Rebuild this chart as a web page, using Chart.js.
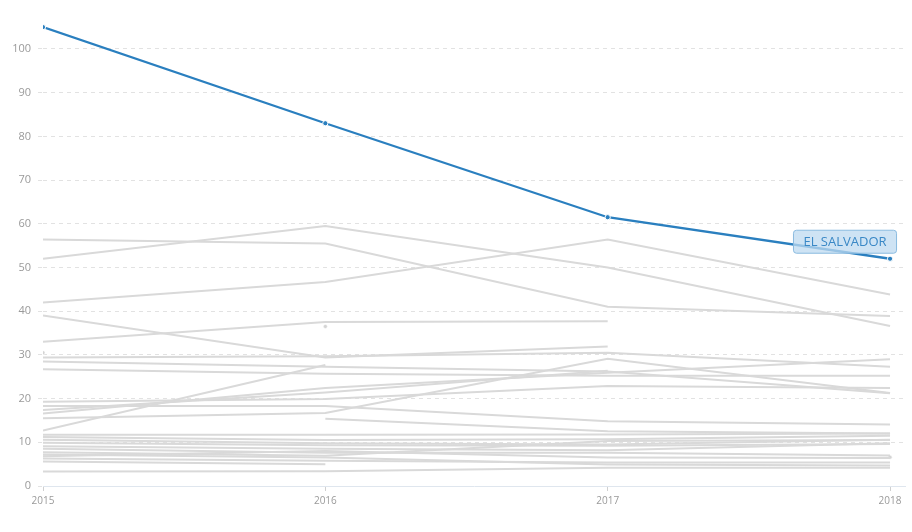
<!DOCTYPE html>
<html>
<head>
<meta charset="utf-8">
<script src="https://cdn.jsdelivr.net/npm/chart.js@4.4.1/dist/chart.umd.min.js"></script>
<style>
  html, body { margin: 0; padding: 0; background: #fff; }
  #wrap { width: 912px; height: 532px; }
</style>
</head>
<body>
<div id="wrap"><canvas id="myChart" width="912" height="532"></canvas></div>
<script>
// years on the x axis
let years = [2015, 2016, 2017, 2018];

// highlighted country
let elSalvador = [105, 83, 61.5, 52];

// other countries (grey), null where no value
let others = [
  [42, 46.7, 56.4, 43.8],
  [52, 59.5, 50, 36.6],
  [56.4, 55.5, 41, 38.9],
  [33, 37.5, 37.7, null],
  [39, 29.4, 31.9, null],
  [29.4, 29.7, 30.5, 27.3],
  [28.5, 27.3, 26.2, 21.2],
  [26.7, 25.7, 25.2, 25.2],
  [12.7, 27.7, null, null],
  [16.6, 22.4, 25.9, 29],
  [17.4, 21.4, 26.4, null],
  [19.3, 19.9, 22.9, 22.4],
  [15.5, 16.7, 29.1, 21.3],
  [18.3, 18.3, 14.8, 14.1],
  [null, 15.4, 12.5, 12],
  [11.7, 11.7, 11.8, 12],
  [11.2, 10.5, 10.7, 11.5],
  [10.6, 9.8, 9.5, 10.6],
  [9.9, 9.3, 9.2, 9.6],
  [9.1, 8.5, 8.2, 9.8],
  [8.5, 7.6, 7.6, 7.0],
  [7.7, 6.9, 10.3, 10.5],
  [6.8, 8.0, 6.5, 6.4],
  [7.2, 6.5, 4.9, 4.7],
  [6.3, 5.8, 5.4, 5.4],
  [5.6, 5.0, null, null],
  [3.3, 3.4, 4.2, 4.2]
];

// countries with only one year of data
let singles = [
  [30.5, null, null, null],
  [null, 36.5, null, null],
  [null, null, null, 6.6]
];

let highlightLabel = 'EL SALVADOR';

function toPoints(arr) {
  return arr.map((v, i) => ({ x: years[i], y: v }));
}

let datasets = [];
datasets.push({
  label: highlightLabel,
  data: toPoints(elSalvador),
  borderColor: '#2a7fbf',
  backgroundColor: '#2a7fbf',
  borderWidth: 2.3,
  pointRadius: 2.6,
  pointBorderColor: '#ffffff',
  pointBorderWidth: 1,
  order: 0
});
others.forEach((arr, i) => {
  datasets.push({
    label: 'c' + i,
    data: toPoints(arr),
    borderColor: '#d9d9d9',
    borderWidth: 2,
    pointRadius: 0,
    order: 1
  });
});
singles.forEach((arr, i) => {
  datasets.push({
    label: 's' + i,
    data: toPoints(arr),
    borderColor: '#d4d4d4',
    backgroundColor: '#d4d4d4',
    pointRadius: 2,
    pointBorderColor: '#ffffff',
    pointBorderWidth: 0.5,
    order: 1
  });
});

// label box next to the last highlighted point
const boxLabel = {
  id: 'boxLabel',
  afterDatasetsDraw(chart) {
    const meta = chart.getDatasetMeta(0);
    const pt = meta.data[meta.data.length - 1];
    const ctx = chart.ctx;
    ctx.save();
    ctx.font = '13px "Open Sans"';
    const w = ctx.measureText(highlightLabel).width + 20;
    const h = 23;
    const x = pt.x + 6 - w;
    const y = pt.y - 6 - h;
    ctx.fillStyle = 'rgba(190,218,240,0.75)';
    ctx.strokeStyle = '#8bbbe0';
    ctx.lineWidth = 1;
    ctx.beginPath();
    ctx.roundRect(x + 0.5, y + 0.5, w, h, 3);
    ctx.fill();
    ctx.stroke();
    ctx.fillStyle = '#3a88c6';
    ctx.textAlign = 'center';
    ctx.textBaseline = 'middle';
    ctx.fillText(highlightLabel, x + w / 2 + 0.5, y + h / 2 + 1);
    ctx.restore();
  }
};

const ctx = document.getElementById('myChart');
const myChart = new Chart(ctx, {
  type: 'line',
  data: { datasets: datasets },
  plugins: [boxLabel],
  options: {
    responsive: false,
    animation: false,
    spanGaps: false,
    layout: { padding: { top: 14, right: 7, left: 0, bottom: 0 } },
    plugins: {
      legend: { display: false },
      tooltip: { enabled: false }
    },
    scales: {
      x: {
        type: 'linear',
        min: 2015,
        max: 2018.053,
        afterBuildTicks: (axis) => {
          axis.ticks = years.map(y => ({ value: y }));
        },
        afterFit: (axis) => { axis.height = 46; },
        ticks: {
          stepSize: 1,
          autoSkip: false,
          maxRotation: 0,
          padding: 4,
          color: '#9a9a9a',
          font: { family: 'Open Sans', size: 10 },
          callback: (v) => String(v)
        },
        grid: {
          drawOnChartArea: false,
          drawTicks: true,
          tickLength: 5,
          tickColor: '#d0d0d0'
        },
        border: { display: true, color: '#dfe6ee', width: 1 }
      },
      y: {
        min: 0,
        max: 108,
        afterBuildTicks: (axis) => {
          axis.ticks = axis.ticks.filter(t => t.value % 10 === 0);
        },
        afterFit: (axis) => { axis.width = 43; },
        ticks: {
          stepSize: 10,
          padding: 7,
          color: '#9a9a9a',
          font: { family: 'Open Sans', size: 11 }
        },
        grid: {
          color: '#e2e2e2',
          tickLength: 5,
          tickColor: '#e2e2e2',
          tickBorderDash: [4, 4]
        },
        border: { display: false, dash: [4, 4] }
      }
    }
  }
});
</script>
</body>
</html>
